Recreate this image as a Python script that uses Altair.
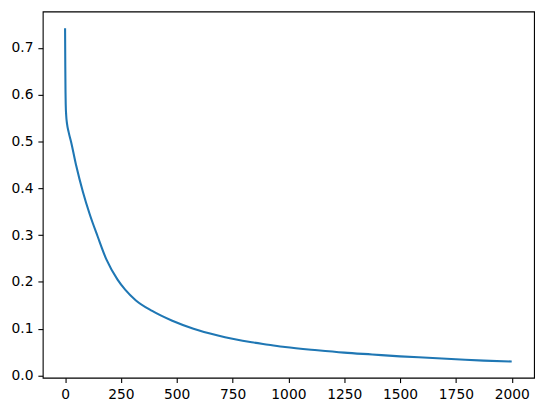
import altair as alt
import pandas as pd

steps = [0, 1, 2, 3, 5, 9, 16, 27, 50, 80, 110, 146, 185, 235, 270, 316, 390, 480, 575,
         680, 755, 836, 910, 985, 1130, 1250, 1375, 1500, 1625, 1750, 1875, 2000]
loss = [0.742, 0.66, 0.605, 0.578, 0.556, 0.537, 0.520, 0.499, 0.448, 0.392, 0.345, 0.297,
        0.248, 0.205, 0.183, 0.161, 0.138, 0.117, 0.100, 0.086, 0.078, 0.071, 0.066, 0.061,
        0.054, 0.049, 0.045, 0.041, 0.038, 0.035, 0.032, 0.030]
x_ticks = [0, 250, 500, 750, 1000, 1250, 1500, 1750, 2000]
y_ticks = [0.0, 0.1, 0.2, 0.3, 0.4, 0.5, 0.6, 0.7]

df = pd.DataFrame({"step": steps, "loss": loss})

axis_common = dict(
    grid=False,
    domain=False,
    tickColor="black",
    tickWidth=1.1,
    tickSize=4.9,
    labelColor="black",
    labelFont="DejaVu Sans",
    labelFontSize=13.9,
    labelPadding=4.9,
    title=None,
)

chart = (
    alt.Chart(df)
    .mark_line(color="#1f77b4", strokeWidth=2.1, clip=True, interpolate="monotone")
    .encode(
        x=alt.X("step:Q",
                scale=alt.Scale(domain=[-100, 2100], nice=False, zero=False),
                axis=alt.Axis(values=x_ticks, format="d", **axis_common)),
        y=alt.Y("loss:Q",
                scale=alt.Scale(domain=[-0.0046, 0.7776], nice=False, zero=False),
                axis=alt.Axis(values=y_ticks, format=".1f", **axis_common)),
    )
    .properties(
        width=495,
        height=369,
        background="white",
        autosize=alt.AutoSizeParams(type="none"),
        padding={"left": 35, "top": 2, "right": 5, "bottom": 30},
    )
    .configure_view(stroke="black", strokeWidth=1.1)
)

chart.save("out.html", embed_options={"renderer": "svg", "actions": False})
